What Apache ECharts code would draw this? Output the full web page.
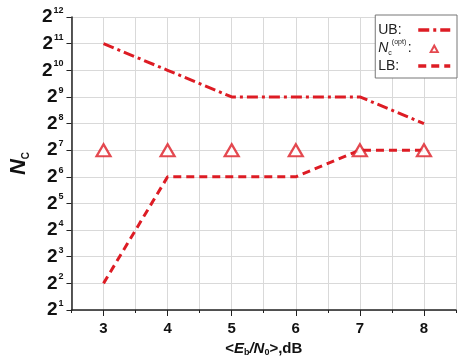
<!DOCTYPE html>
<html>
<head>
<meta charset="utf-8">
<script src="https://cdn.jsdelivr.net/npm/echarts@6/dist/echarts.min.js"></script>
<style>
  html, body { margin: 0; padding: 0; background: #fff; }
  #chart { width: 459px; height: 363px; }
</style>
</head>
<body>
<div id="chart"></div>
<script>
// Eb/N0 values in dB
var snrDb = [3, 4, 5, 6, 7, 8];
// Upper bound on the number of chips
var upperBound = [2048, 1024, 512, 512, 512, 256];
// Optimal number of chips
var optimal = [128, 128, 128, 128, 128, 128];
// Lower bound on the number of chips
var lowerBound = [4, 64, 64, 64, 128, 128];
// Integer tick positions on the x axis
var xMajorTicks = [3, 4, 5, 6, 7, 8];

var RED = '#dd1c24';
var FONT = '"Liberation Sans", Arial, sans-serif';
// small outlined triangle used as the legend key for the optimum
// (the two leading move-tos pad its box so it draws smaller than the line keys)
var TRIANGLE_ICON = 'path://M-1,-1.5 M11,10 M0,9 L5,0 L10,9 Z M3.1,7.3 L6.9,7.3 L5,4 Z';
// every legend label gets the same width so the keys line up in one column
var LEGEND_TEXT_W = 35;

function pairs(xs, ys) {
  return xs.map(function (x, i) { return [x, ys[i]]; });
}

function textWidth(str, font) {
  var ctx = document.createElement('canvas').getContext('2d');
  ctx.font = font;
  return ctx.measureText(str).width;
}

var optHeadW = textWidth('N', 'italic 14px ' + FONT) + textWidth('c', '7px ' + FONT) + textWidth('(opt)', '7px ' + FONT);

var chart = echarts.init(document.getElementById('chart'), null, { renderer: 'canvas' });

chart.setOption({
  animation: false,
  backgroundColor: '#fff',
  grid: { left: 65, top: 17, right: -1, bottom: 53, containLabel: false },
  legend: {
    orient: 'vertical',
    right: 2,
    top: 15,
    align: 'right',
    backgroundColor: '#fff',
    borderColor: '#777',
    borderWidth: 1,
    borderRadius: 0,
    padding: [8, 5, 5, 3],
    itemGap: 2,
    itemWidth: 32,
    itemHeight: 12,
    lineStyle: { width: 3.5 },
    textStyle: {
      fontFamily: FONT,
      fontSize: 14,
      color: '#222',
      rich: {
        w: { fontFamily: FONT, fontSize: 14, color: '#222', width: LEGEND_TEXT_W, align: 'left' },
        n: { fontFamily: FONT, fontSize: 14, fontStyle: 'italic', color: '#222', lineHeight: 18, verticalAlign: 'middle' },
        sb: { fontFamily: FONT, fontSize: 7, color: '#222', verticalAlign: 'bottom', lineHeight: 8 },
        sp: { fontFamily: FONT, fontSize: 7, color: '#222', verticalAlign: 'top', lineHeight: 8 },
        t: { fontFamily: FONT, fontSize: 14, color: '#222', verticalAlign: 'middle', width: Math.max(4, LEGEND_TEXT_W - optHeadW), align: 'left' }
      }
    },
    formatter: function (name) {
      if (name === 'opt') return '{n|N}{sb|c}{sp|(opt)}{t|:}';
      return '{w|' + name + '}';
    },
    data: [
      { name: 'UB:', itemStyle: { opacity: 0 } },
      { name: 'opt', icon: TRIANGLE_ICON, itemStyle: { color: RED, borderWidth: 0 } },
      { name: 'LB:', itemStyle: { opacity: 0 } }
    ]
  },
  xAxis: [{
    type: 'value',
    min: 2.5,
    max: 8.5,
    interval: 0.5,
    name: '{t|<}{i|E}{s|b}{i|/N}{s|0}{t|>,dB}',
    nameLocation: 'middle',
    nameGap: 27,
    nameTextStyle: {
      rich: {
        t: { fontFamily: FONT, fontSize: 15, fontWeight: 'bold', color: '#111', lineHeight: 18 },
        i: { fontFamily: FONT, fontSize: 15, fontWeight: 'bold', fontStyle: 'italic', color: '#111', lineHeight: 18 },
        s: { fontFamily: FONT, fontSize: 9, fontWeight: 'bold', color: '#111', verticalAlign: 'bottom', lineHeight: 9 }
      }
    },
    axisLine: { show: true, lineStyle: { color: '#222', width: 1.5 } },
    axisTick: { show: true, inside: false, length: 3, lineStyle: { color: '#222', width: 1 } },
    axisLabel: {
      margin: 11,
      fontFamily: FONT,
      fontSize: 15,
      fontWeight: 'bold',
      color: '#111',
      formatter: function (v) { return Number.isInteger(v) ? String(v) : ''; }
    },
    splitLine: { show: true, lineStyle: { color: '#d9d9d9', width: 1 } }
  }, {
    // longer ticks at whole dB values
    type: 'value',
    min: 2.5,
    max: 8.5,
    interval: 0.5,
    position: 'bottom',
    axisLine: { show: false },
    axisTick: { show: true, length: 6, customValues: xMajorTicks, lineStyle: { color: '#222', width: 1 } },
    axisLabel: { show: false },
    splitLine: { show: false }
  }],
  yAxis: {
    type: 'log',
    logBase: 2,
    min: 2,
    max: 4096,
    interval: 1,
    name: '{n|N}{c|C}',
    nameLocation: 'middle',
    nameRotate: 90,
    nameGap: 39,
    nameTextStyle: {
      rich: {
        n: { fontFamily: FONT, fontSize: 22, fontWeight: 'bold', fontStyle: 'italic', color: '#111', lineHeight: 24 },
        c: { fontFamily: FONT, fontSize: 10, fontWeight: 'bold', color: '#111', verticalAlign: 'bottom', lineHeight: 10 }
      }
    },
    axisLine: { show: true, lineStyle: { color: '#222', width: 1.5 } },
    axisTick: { show: true, inside: false, length: 5, lineStyle: { color: '#222', width: 1 } },
    axisLabel: {
      margin: 8,
      formatter: function (v) {
        var e = Math.round(Math.log2(v));
        return '{b|2}{s|' + e + '}';
      },
      rich: {
        b: { fontFamily: FONT, fontSize: 19, fontWeight: 'bold', color: '#111', lineHeight: 22, verticalAlign: 'middle' },
        s: { fontFamily: FONT, fontSize: 9, fontWeight: 'bold', color: '#111', lineHeight: 9, verticalAlign: 'top', padding: [0, 0, 0, 1] }
      }
    },
    splitLine: { show: true, lineStyle: { color: '#d9d9d9', width: 1 } }
  },
  series: [{
    name: 'UB:',
    type: 'line',
    data: pairs(snrDb, upperBound),
    symbol: 'none',
    lineStyle: { color: RED, width: 3, type: [11, 4, 3, 4] },
    itemStyle: { color: RED },
    z: 3
  }, {
    name: 'opt',
    type: 'scatter',
    data: pairs(snrDb, optimal),
    symbol: 'triangle',
    symbolSize: [14, 12],
    itemStyle: { color: '#fff', borderColor: RED, borderWidth: 2.2 },
    z: 4
  }, {
    name: 'LB:',
    type: 'line',
    data: pairs(snrDb, lowerBound),
    symbol: 'none',
    lineStyle: { color: RED, width: 3, type: [8, 5] },
    itemStyle: { color: RED },
    z: 3
  }]
});
</script>
</body>
</html>
